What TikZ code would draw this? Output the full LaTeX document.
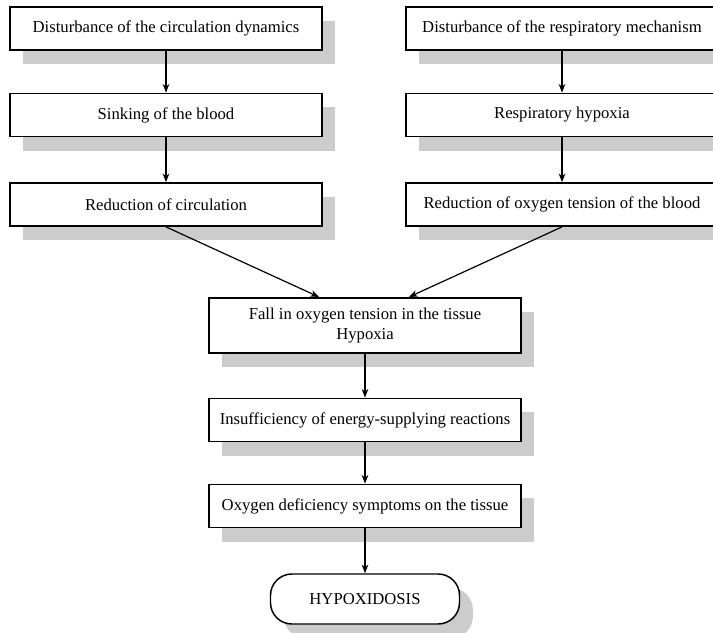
\documentclass[tikz,border=0pt]{standalone}
\usepackage{fontspec}
\setmainfont{Liberation Serif}
\usetikzlibrary{shadows}
\usetikzlibrary{arrows.meta}
\usetikzlibrary{calc}

\tikzset{
    stepbox/.style={draw, line width=1.1pt, fill=white, minimum width=234pt,
        minimum height=32.5pt, align=center, inner sep=2pt,
        font=\fontsize{12.5}{15.5}\selectfont,
        drop shadow={shadow xshift=10pt, shadow yshift=-10.5pt, fill=gray!40, opacity=1}},
    endbox/.style={stepbox, minimum width=141.75pt, minimum height=37.5pt,
        rounded corners=16pt},
    flow/.style={->, line width=0.9pt}
}

\begin{document}
\begin{tikzpicture}[x=0.75pt, y=-0.75pt, >={Stealth[length=6.5pt, width=5pt]}]
    \useasboundingbox (0,0) rectangle (713,632);

    % Circulation side
    \node[stepbox] (circ) at (166,28.5) {Disturbance of the circulation dynamics};
    \node[stepbox] (sink) at (166,115) {Sinking of the blood};
    \node[stepbox] (redc) at (166,204.5) {Reduction of circulation};

    % Respiration side
    \node[stepbox] (resp) at (562,28.5) {Disturbance of the respiratory mechanism};
    \node[stepbox] (rhyp) at (562,115) {Respiratory hypoxia};
    \node[stepbox] (redo) at (562,204.5) {Reduction of oxygen tension of the blood};

    % Common chain
    \node[stepbox, minimum height=41.25pt] (fall) at (365,325.5)
        {Fall in oxygen tension in the tissue\\Hypoxia};
    \node[stepbox] (insf) at (365,420) {Insufficiency of energy-supplying reactions};
    \node[stepbox] (symp) at (365,506) {Oxygen deficiency symptoms on the tissue};
    \node[endbox] (hypo) at (365,599) {HYPOXIDOSIS};

    % Inlets on top of the tissue box
    \coordinate (inl) at (319,297);
    \coordinate (inr) at (409,297);

    % Connectors
    \foreach \a/\b in {circ/sink, sink/redc, resp/rhyp, rhyp/redo,
                       fall/insf, insf/symp, symp/hypo} {
        \draw[flow] (\a) -- (\b);
    }
    \draw[flow] (redc.south) -- (inl);
    \draw[flow] (redo.south) -- (inr);

\end{tikzpicture}
\end{document}
